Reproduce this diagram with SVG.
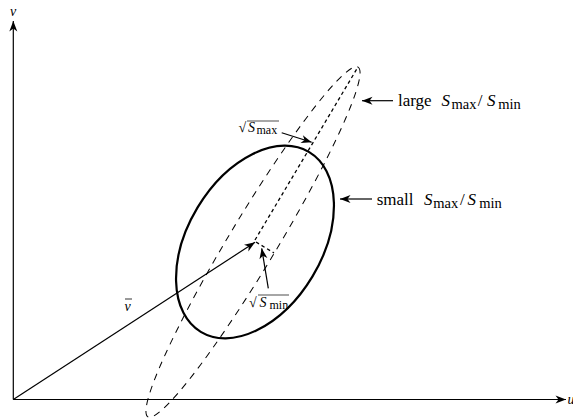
<svg xmlns="http://www.w3.org/2000/svg" width="573" height="419" viewBox="0 0 573 419">
<style>
  .ln{stroke:#000;stroke-width:1.2;fill:none}
  .tx{font-family:"Liberation Serif","DejaVu Serif",serif;fill:#000}
  .it{font-style:italic}
  .dash{stroke:#000;stroke-width:1;fill:none;stroke-dasharray:7 6}
  .dot{stroke:#000;stroke-width:1.3;fill:none;stroke-dasharray:3.5 3}
</style>
<defs>
  <marker id="ah" viewBox="-11 -5 12 10" refX="0" refY="0" markerWidth="12" markerHeight="10" markerUnits="userSpaceOnUse" orient="auto">
    <path d="M0,0 L-10.5,-4 L-7.5,0 L-10.5,4 Z" fill="#000"/>
  </marker>
</defs>
<g id="axes">
  <line class="ln" x1="13.3" y1="399.5" x2="13.3" y2="21" marker-end="url(#ah)"/>
  <line class="ln" x1="13.3" y1="399.5" x2="566" y2="399.5" marker-end="url(#ah)"/>
  <text class="tx it" x="10" y="15.5" font-size="14">v</text>
  <text class="tx it" x="567.5" y="403.5" font-size="14">u</text>
</g>
<g id="ellipse-large">
  <ellipse class="dash" cx="253" cy="242" rx="204" ry="24" transform="rotate(-59 253 242)"/>
</g>
<g id="ellipse-small">
  <ellipse cx="255" cy="242" rx="105" ry="67" transform="rotate(-58.9 255 242)" fill="none" stroke="#000" stroke-width="2.2"/>
</g>
<g id="axes-dotted">
  <line class="dot" x1="255" y1="240" x2="358" y2="67"/>
  <line class="dot" x1="256" y1="242" x2="274" y2="253"/>
</g>
<g id="connectors">
  <line class="ln" x1="13.3" y1="399.5" x2="255" y2="242.3" marker-end="url(#ah)"/>
  <line class="ln" x1="393" y1="100.7" x2="362" y2="100.7" marker-end="url(#ah)"/>
  <line class="ln" x1="372" y1="199" x2="340" y2="199" marker-end="url(#ah)"/>
  <line class="ln" x1="281.7" y1="132.8" x2="311.7" y2="142.2" marker-end="url(#ah)"/>
  <line class="ln" x1="268.3" y1="288.3" x2="261.7" y2="248.3" marker-end="url(#ah)"/>
</g>
<g id="label-vbar">
  <text class="tx it" x="124.5" y="310.5" font-size="14">v</text>
  <line x1="125" y1="299" x2="132" y2="299" stroke="#000" stroke-width="0.8"/>
</g>
<g id="label-large">
  <text class="tx" y="106" font-size="17"><tspan x="398">large</tspan><tspan class="it" x="441.5">S</tspan><tspan x="451.5" dy="2.5" font-size="14.5">max</tspan><tspan x="477.7" dy="-2.5">/</tspan><tspan class="it" x="487">S</tspan><tspan x="498.3" dy="2.5" font-size="14.5">min</tspan></text>
</g>
<g id="label-small">
  <text class="tx" y="205" font-size="17"><tspan x="376.7">small</tspan><tspan class="it" x="424">S</tspan><tspan x="433.3" dy="2.5" font-size="14.5">max</tspan><tspan x="460" dy="-2.5">/</tspan><tspan class="it" x="467.5">S</tspan><tspan x="479.3" dy="2.5" font-size="14.5">min</tspan></text>
</g>
<g id="label-smax">
  <text class="tx" y="132" font-size="14"><tspan x="238.5">√</tspan><tspan class="it" x="248">S</tspan><tspan x="256.5" dy="1.5" font-size="12">max</tspan></text>
  <line x1="247" y1="121" x2="279" y2="121" stroke="#000" stroke-width="0.7"/>
</g>
<g id="label-smin">
  <text class="tx" y="307" font-size="14"><tspan x="249">√</tspan><tspan class="it" x="259.5">S</tspan><tspan x="269.5" dy="1.5" font-size="12">min</tspan></text>
  <line x1="258" y1="295" x2="289" y2="295" stroke="#000" stroke-width="0.7"/>
</g>
</svg>
